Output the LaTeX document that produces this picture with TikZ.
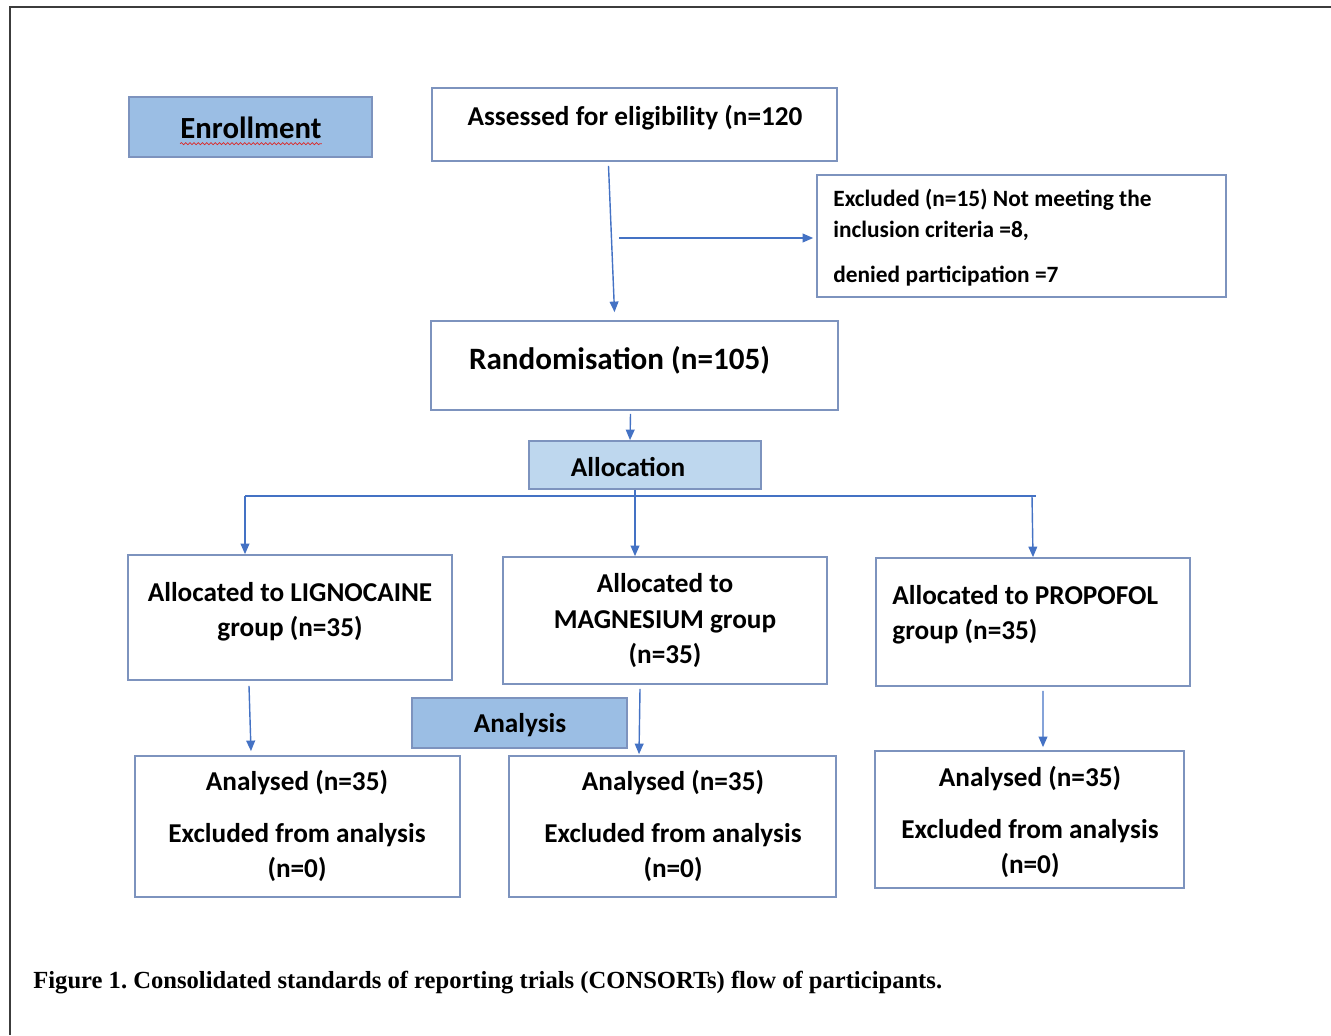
\documentclass[tikz,border=0pt]{standalone}
\usepackage{fontspec}
\setmainfont{Carlito}
\newfontfamily\capfont{Liberation Serif}
\usetikzlibrary{arrows.meta, positioning, calc, decorations.pathmorphing}
\definecolor{boxline}{RGB}{125,147,190}
\definecolor{arrowblue}{RGB}{68,114,196}
\definecolor{headfill}{RGB}{155,190,228}
\definecolor{allocfill}{RGB}{190,215,238}
\definecolor{framegray}{RGB}{60,60,60}
\definecolor{spellred}{RGB}{220,40,40}
\newcommand{\flowfont}{\fontsize{15.5}{20}\selectfont\bfseries}
\newcommand{\smallflowfont}{\fontsize{13.3}{17.6}\selectfont\bfseries}
\newcommand{\bigflowfont}{\fontsize{17.7}{21}\selectfont\bfseries}
\frenchspacing
\tikzset{
    stage/.style={
        rectangle, draw=boxline, line width=1pt, fill=white
    },
    header/.style={
        stage, fill=headfill
    },
    boxtext/.style={
        font=\flowfont, align=center, inner sep=0pt
    },
    flow/.style={draw=arrowblue, line width=0.8pt, -{Triangle[length=6pt, width=5pt]}},
    busline/.style={draw=arrowblue, line width=0.8pt}
}

\begin{document}
\begin{tikzpicture}[x=0.02cm, y=-0.02cm]
\useasboundingbox (0,0) rectangle (1331,1035);

% outer frame
\draw[framegray, line width=1pt] (1331,7) -- (10,7) -- (10,1035);

% Enrollment
\node[header, minimum width=4.86cm, minimum height=1.2cm] (enroll) at (250.5,127) {};
\node[boxtext, font=\fontsize{17.5}{21}\selectfont\bfseries] (enroll-t) at (251,128) {Enrollment};
\draw[spellred, line width=0.4pt, decorate, decoration={snake, amplitude=0.6pt, segment length=2.4pt}]
    ($(enroll-t.base west)+(0,5)$) -- ($(enroll-t.base east)+(0,5)$);

% Screening
\node[stage, minimum width=8.1cm, minimum height=1.46cm] (assess) at (634.5,124.5) {};
\node[boxtext] (assess-t) at (635,117.5) {Assessed for eligibility (n=120};

\node[stage, minimum width=8.18cm, minimum height=2.44cm] (excl) at (1021.5,236) {};
\node[boxtext, font=\smallflowfont, align=left, anchor=west] (excl-t) at (833,237.5)
    {Excluded (n=15) Not meeting the\\inclusion criteria =8,\\[8pt]denied participation =7};

\node[stage, minimum width=8.14cm, minimum height=1.78cm] (rand) at (634.5,365.5) {};
\node[boxtext, font=\bigflowfont] (rand-t) at (619.5,360) {Randomisation (n=105)};

% Allocation
\node[header, fill=allocfill, minimum width=4.64cm, minimum height=0.96cm] (alloc) at (645,465) {};
\node[boxtext] (alloc-t) at (628,467) {Allocation};

\node[stage, minimum width=6.48cm, minimum height=2.5cm] (ligno) at (290,617.5) {};
\node[boxtext] (ligno-t) at (290,612) {Allocated to LIGNOCAINE\\group (n=35)};

\node[stage, minimum width=6.48cm, minimum height=2.54cm] (magn) at (665,620.5) {};
\node[boxtext] (magn-t) at (665,620.5) {Allocated to\\MAGNESIUM group\\(n=35)};

\node[stage, minimum width=6.28cm, minimum height=2.56cm] (prop) at (1033,622) {};
\node[boxtext, align=left, anchor=west] (prop-t) at (892,615) {Allocated to PROPOFOL\\group (n=35)};

% Analysis
\node[header, minimum width=4.3cm, minimum height=1cm] (analysis) at (519.5,723) {};
\node[boxtext] (analysis-t) at (520,725) {Analysis};

\node[stage, minimum width=6.5cm, minimum height=2.82cm] (res1) at (297.5,826.5) {};
\node[boxtext] (res1-t) at (297,826) {Analysed (n=35)\\[9.5pt]Excluded from analysis\\(n=0)};

\node[stage, minimum width=6.54cm, minimum height=2.82cm] (res2) at (672.5,826.5) {};
\node[boxtext] (res2-t) at (673,826) {Analysed (n=35)\\[9.5pt]Excluded from analysis\\(n=0)};

\node[stage, minimum width=6.18cm, minimum height=2.74cm] (res3) at (1029.5,819.5) {};
\node[boxtext] (res3-t) at (1030,822) {Analysed (n=35)\\[9.5pt]Excluded from analysis\\(n=0)};

% caption
\node[font=\capfont\bfseries\fontsize{14}{16}\selectfont, anchor=west, inner sep=0pt] (caption) at (33,983)
    {Figure 1. Consolidated standards of reporting trials (CONSORTs) flow of participants.};

% connectors
\draw[flow] ($(assess.south)+(-26,4)$) -- ($(rand.north)+(-20,-8)$);
\coordinate (split) at (619,238);
\draw[flow] (split) -- ($(split -| excl.west)+(-3,0)$);
\draw[flow] ($(rand.south)+(-4,3)$) -- ($(alloc.north)+(-15,0)$);

\coordinate (busL) at (245,496);
\coordinate (busM) at (635,496);
\coordinate (busR) at (1036,496);
\draw[busline] (busL) -- (busR);
\draw[flow] (busL) -- (busL |- ligno.north);
\draw[flow] (busM |- alloc.south) -- (busM |- magn.north);
\draw[flow] ($(busR)+(-4,0)$) -- (prop.north);

\draw[flow] ($(ligno.south)+(-41,5)$) -- ($(res1.north)+(-46.5,-4)$);
\draw[flow] ($(magn.south)+(-25,4)$) -- ($(res2.north)+(-33.5,-1)$);
\draw[flow] ($(prop.south)+(10,4)$) -- ($(res3.north)+(13.5,-3)$);

\end{tikzpicture}
\end{document}
